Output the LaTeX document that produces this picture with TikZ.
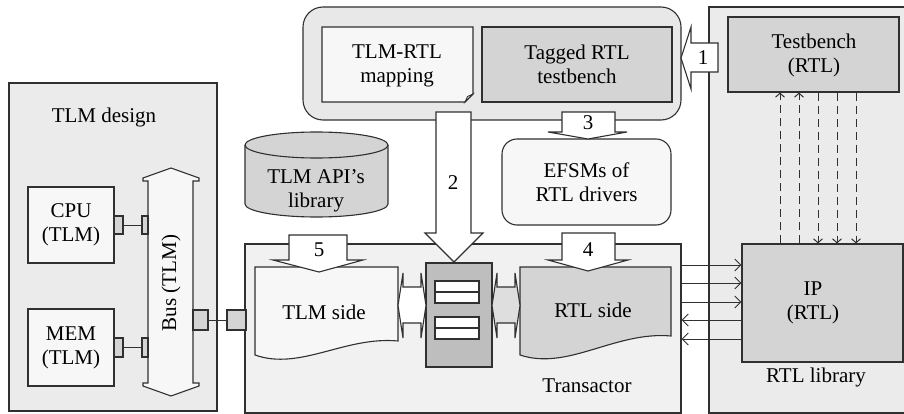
\documentclass[tikz,border=0pt]{standalone}
\usepackage{fontspec}
\setmainfont{Liberation Serif}
\usetikzlibrary{arrows.meta}

\definecolor{ink}{HTML}{303030}
\definecolor{panelgrey}{HTML}{EBEBEB}
\definecolor{trgrey}{HTML}{F0F1F0}
\definecolor{topgrey}{HTML}{E8E8E8}
\definecolor{paper}{HTML}{F6F7F6}
\definecolor{midgrey}{HTML}{D4D4D4}
\definecolor{fifogrey}{HTML}{BEBEBE}
\definecolor{lightarrow}{HTML}{DEDEDE}

\tikzset{
  outline/.style={draw=ink, line width=1.1pt},
  boxnode/.style={outline, rectangle, inner sep=0pt, minimum width=#1},
  txt/.style={font=\fontsize{21}{24}\selectfont, align=center, inner sep=0pt, text=black},
  num/.style={font=\fontsize{21}{24}\selectfont, inner sep=0pt},
  blockarrow/.style={outline, fill=white},
  sig/.style={draw=ink, line width=1pt, -{Straight Barb[length=6pt,width=12pt,line width=1pt]}},
  dsig/.style={sig, dash pattern=on 8pt off 5pt, -{Straight Barb[length=4pt,width=9pt,line width=1pt]}},
}

\begin{document}
\begin{tikzpicture}[x=1pt,y=-1pt]
\useasboundingbox (0,0) rectangle (904,414);
\clip (0,0) rectangle (904,414);
\fill[white] (0,0) rectangle (904,414);

% --- three panels ---
\node[boxnode=208pt, minimum height=328pt, fill=panelgrey] (tlmd) at (113,247) {};
\node[txt] (tlmdlabel) at (104,117) {TLM design};
\node[boxnode=436pt, minimum height=169pt, fill=trgrey] (tr) at (463,328.5) {};
\node[txt] (trlabel) at (587,386) {Transactor};
\node[boxnode=206pt, minimum height=406pt, fill=panelgrey] (rtll) at (812,210) {};
\node[txt] (rtlllabel) at (816,377) {RTL library};

% --- TLM design contents ---
\node[boxnode=86pt, minimum height=76pt, fill=paper, txt] (cpu) at (71,225) {CPU\\(TLM)};
\node[boxnode=86pt, minimum height=77pt, fill=paper, txt] (mem) at (71,347.5) {MEM\\(TLM)};
% bus as a double-headed block arrow
\path[outline, fill=paper] (171,168) -- (199,178) -- (199,181) -- (193,181) -- (193,383)
  -- (199,383) -- (199,386) -- (171,396) -- (143,386) -- (143,383) -- (148,383)
  -- (148,181) -- (143,181) -- (143,178) -- cycle;
\node[txt, rotate=90] (bus) at (171,283) {Bus (TLM)};
% ports
\node[boxnode=9pt, minimum height=18pt, fill=midgrey] (cpup) at (118.5,225) {};
\node[boxnode=6pt, minimum height=18pt, fill=midgrey] (buscpu) at (145,225) {};
\node[boxnode=9pt, minimum height=19pt, fill=midgrey] (memp) at (118.5,347.5) {};
\node[boxnode=6pt, minimum height=19pt, fill=midgrey] (busmem) at (145,347.5) {};
\node[boxnode=15pt, minimum height=20pt, fill=midgrey] (busout) at (200.5,320) {};
\node[boxnode=19pt, minimum height=20pt, fill=midgrey] (trin) at (236.5,320) {};
\draw[draw=ink, line width=1pt] (cpup) -- (buscpu);
\draw[draw=ink, line width=1pt] (memp) -- (busmem);
\draw[draw=ink, line width=1pt] (busout) -- (trin);

% --- top group ---
\node[boxnode=378pt, minimum height=113pt, fill=topgrey, rounded corners=20pt] (top) at (492,63.5) {};
\path[outline, fill=paper] (322,27) -- (473,27) -- (473,94) -- (465,102) -- (322,102) -- cycle;
\path[outline, fill=midgrey, line width=0.8pt] (465,102) -- (467.5,96.5) -- (473,94) -- cycle;
\node[txt] (map) at (397,66) {TLM-RTL\\mapping};
\node[boxnode=190pt, minimum height=75pt, fill=midgrey, txt] (tag) at (577,64.5) {Tagged RTL\\testbench};

% --- library (cylinder) and EFSMs ---
\path[outline, fill=midgrey] (245,145) -- (245,204) arc[start angle=180, end angle=360, x radius=71.5pt, y radius=13pt]
  -- (388,145) arc[start angle=0, end angle=180, x radius=71.5pt, y radius=13pt] -- cycle;
\draw[outline] (245,145) arc[start angle=180, end angle=360, x radius=71.5pt, y radius=13pt];
\node[txt] (api) at (316,191) {TLM API’s\\library};
\node[boxnode=169pt, minimum height=86pt, fill=paper, rounded corners=15pt, txt] (efsm) at (586.5,182) {EFSMs of\\RTL drivers};

% --- RTL library contents ---
\node[boxnode=171pt, minimum height=75pt, fill=midgrey] (tb) at (813.5,54.5) {};
\node[txt] (tblabel) at (814,55) {Testbench\\(RTL)};
\node[boxnode=161pt, minimum height=118pt, fill=midgrey] (ip) at (822.5,303) {};
\node[txt] (iplabel) at (813,303) {IP\\(RTL)};

% --- transactor contents ---
\path[outline, fill=paper] (255,267) -- (398,267) -- (398,341)
  .. controls (345,336) and (300,371) .. (255,355) -- cycle;
\node[txt] (tlmside) at (324,312) {TLM side};
\path[outline, fill=midgrey] (520,267) -- (671,267) -- (671,336)
  .. controls (615,331) and (568,371) .. (520,355) -- cycle;
\node[txt] (rtlside) at (593,310) {RTL side};
\node[boxnode=66pt, minimum height=104pt, fill=fifogrey] (fifo) at (459,315) {};
\node[boxnode=44pt, minimum height=22pt, fill=white] (q1) at (457,292) {};
\draw[outline] (q1.west) -- (q1.east);
\node[boxnode=44pt, minimum height=22pt, fill=white] (q2) at (457,328) {};
\draw[outline] (q2.west) -- (q2.east);
% double block arrows either side of the queue
\path[outline, fill=white] (398,305.5) -- (403,273) -- (403,287) -- (421,287) -- (421,273)
  -- (426,305.5) -- (421,338) -- (421,323) -- (403,323) -- (403,338) -- cycle;
\path[outline, fill=lightarrow] (492,305.5) -- (497,273) -- (497,287) -- (515,287) -- (515,273)
  -- (520,305.5) -- (515,338) -- (515,323) -- (497,323) -- (497,338) -- cycle;

% --- numbered flow arrows ---
\path[blockarrow] (718,43) -- (691,43) -- (691,27) -- (681,58) -- (691,89) -- (691,72) -- (718,72) -- cycle;
\node[num] (n1) at (703,58) {1};
\path[blockarrow] (436,112) -- (471,112) -- (471,233) -- (483,233) -- (454,262) -- (425,233) -- (436,233) -- cycle;
\node[num] (n2) at (453,183) {2};
\path[blockarrow] (562,112) -- (615,112) -- (615,132) -- (627,132) -- (588,139) -- (548,132) -- (562,132) -- cycle;
\node[num] (n3) at (588,123) {3};
\path[blockarrow] (562,233) -- (615,233) -- (615,260) -- (628,260) -- (588,271) -- (548,260) -- (562,260) -- cycle;
\node[num] (n4) at (588,250) {4};
\path[blockarrow] (289,235) -- (347,235) -- (347,260) -- (363,260) -- (319,272) -- (273,260) -- (289,260) -- cycle;
\node[num] (n5) at (319,250) {5};

% --- signals between testbench and IP ---
\coordinate (d1) at (780,0);
\coordinate (d2) at (799,0);
\coordinate (d3) at (818,0);
\coordinate (d4) at (837,0);
\coordinate (d5) at (856,0);
\draw[dsig] (ip.north -| d1) -- (tb.south -| d1);
\draw[dsig] (ip.north -| d2) -- (tb.south -| d2);
\draw[dsig] (tb.south -| d3) -- (ip.north -| d3);
\draw[dsig] (tb.south -| d4) -- (ip.north -| d4);
\draw[dsig] (tb.south -| d5) -- (ip.north -| d5);

% --- signals between transactor and IP ---
\coordinate (h1) at (0,265);
\coordinate (h2) at (0,283);
\coordinate (h3) at (0,302);
\coordinate (h4) at (0,320);
\coordinate (h5) at (0,339);
\draw[sig] (tr.east |- h1) -- (ip.west |- h1);
\draw[sig] (tr.east |- h2) -- (ip.west |- h2);
\draw[sig] (tr.east |- h3) -- (ip.west |- h3);
\draw[sig] (ip.west |- h4) -- (tr.east |- h4);
\draw[sig] (ip.west |- h5) -- (tr.east |- h5);
\end{tikzpicture}
\end{document}
